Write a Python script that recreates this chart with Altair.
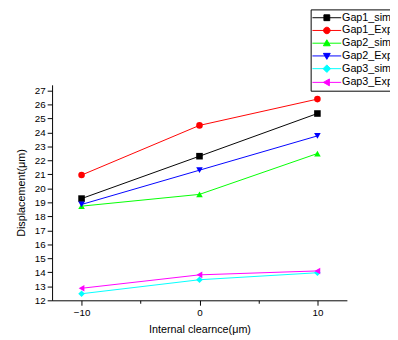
import altair as alt
import pandas as pd

x_vals = [-10, 0, 10]
series_names = ["Gap1_sim", "Gap1_Exp", "Gap2_sim", "Gap2_Exp", "Gap3_sim", "Gap3_Exp"]
marker_codes = ["m1", "m2", "m3", "m4", "m5", "m6"]
gap1_sim = [19.27, 22.3, 25.35]
gap1_exp = [20.95, 24.5, 26.38]
gap2_sim = [18.73, 19.57, 22.49]
gap2_exp = [18.85, 21.3, 23.75]
gap3_sim = [12.47, 13.47, 13.97]
gap3_exp = [12.86, 13.82, 14.1]
colors = ["#000000", "#ff0000", "#00ff00", "#0000ff", "#00ffff", "#ff00ff"]
shapes = ["square", "circle", "triangle-up", "triangle-down", "diamond", "triangle-left"]

all_vals = [gap1_sim, gap1_exp, gap2_sim, gap2_exp, gap3_sim, gap3_exp]
rows = []
for name, code, vals in zip(series_names, marker_codes, all_vals):
    for xv, yv in zip(x_vals, vals):
        rows.append({"x": xv, "y": yv, "series": name, "marker": code})
df = pd.DataFrame(rows)

# legend symbols: line segment plus marker (unit coords)
seg = "M-4.2,0H4.2"
legend_paths = [
    seg + "M-0.85,-0.85H0.85V0.85H-0.85Z",
    seg + "M-0.95,0A0.95,0.95,0,1,1,0.95,0A0.95,0.95,0,1,1,-0.95,0Z",
    seg + "M0,-1L1,0.75L-1,0.75Z",
    seg + "M0,1L1,-0.75L-1,-0.75Z",
    seg + "M0,-1.1L1.1,0L0,1.1L-1.1,0Z",
    seg + "M-1,0L0.75,-1L0.75,1Z",
]
path_arr = "[" + ",".join("'" + p + "'" for p in legend_paths) + "]"
name_arr = "[" + ",".join("'" + n + "'" for n in series_names) + "]"
shape_expr = f"{path_arr}[indexof({name_arr}, datum.value)]"

FONT = "Liberation Sans"

xscale = alt.Scale(domain=[-12.5, 12.5], nice=False, zero=False)
yscale = alt.Scale(domain=[12, 27.4], nice=False, zero=False)
cscale = alt.Scale(domain=series_names, range=colors)

y_ticks = [12 + 0.5 * i for i in range(31)]

xaxis = alt.Axis(
    values=[-10, -5, 0, 5, 10], format="d",
    labelExpr="datum.value % 10 === 0 ? datum.label : ''",
    grid=False,
    tickSize={"condition": {"test": "datum.value % 10 === 0", "value": 5}, "value": 3},
    labelPadding=3, labelFontSize=10, labelFont=FONT,
    labelColor="black", domainColor="black", tickColor="black",
    title="Internal clearnce(μm)", titleFontSize=11, titleFont=FONT,
    titleFontWeight="normal", titleColor="black", titlePadding=6,
    labelOverlap=False,
)
yaxis = alt.Axis(
    values=y_ticks, format="d",
    labelExpr="datum.value % 1 === 0 ? datum.label : ''",
    grid=False,
    tickSize={"condition": {"test": "datum.value % 1 === 0", "value": 5}, "value": 3},
    labelPadding=2, labelFontSize=10, labelFont=FONT,
    labelColor="black", domainColor="black", tickColor="black",
    title="Displacement(μm)", titleFontSize=11, titleFont=FONT,
    titleFontWeight="normal", titleColor="black", titlePadding=8,
    labelOverlap=False,
)

legend = alt.Legend(
    title=None, orient="none", legendX=264, legendY=-77,
    strokeColor="black", fillColor="white", padding=3,
    labelFont=FONT, labelFontSize=11, labelColor="black",
    symbolSize=49, symbolOffset=8, labelOffset=10, rowPadding=1,
    symbolStrokeWidth=1, labelLimit=200, symbolOpacity=1,
    symbolType={"expr": shape_expr},
    symbolStrokeColor={"expr": "scale('color', datum.value)"},
    symbolFillColor={"expr": "scale('color', datum.value)"},
)

X = alt.X("x:Q", scale=xscale, axis=xaxis)
Y = alt.Y("y:Q", scale=yscale, axis=yaxis)
C = alt.Color("series:N", scale=cscale, legend=legend)

base = alt.Chart(df)

lines = base.mark_line(strokeWidth=1).encode(x=X, y=Y, color=C, detail="series:N")

points = base.mark_point(filled=True, size=45, opacity=1).encode(
    x=X, y=Y, color=C,
    shape=alt.Shape("marker:N", scale=alt.Scale(domain=marker_codes, range=shapes), legend=None),
)

chart = alt.layer(lines, points).properties(
    width=301, height=220,
    autosize=alt.AutoSizeParams(type="none"),
    padding={"left": 45, "top": 75, "right": 44, "bottom": 33},
).configure(background="white").configure_view(stroke=None)

chart.save("out.html", embed_options={"renderer": "svg", "actions": False})
